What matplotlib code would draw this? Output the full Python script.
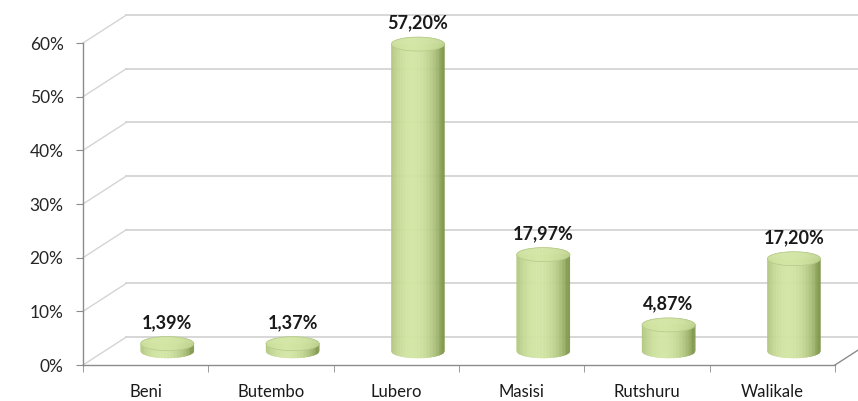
import numpy as np
import matplotlib.pyplot as plt
from matplotlib.collections import PolyCollection
from matplotlib.colors import to_rgb

plt.rcParams['font.family'] = ['Lato', 'DejaVu Sans']

categories = ['Beni', 'Butembo', 'Lubero', 'Masisi', 'Rutshuru', 'Walikale']
values = [1.39, 1.37, 57.20, 17.97, 4.87, 17.20]
labels = ['1,39%', '1,37%', '57,20%', '17,97%', '4,87%', '17,20%']
yticks = [0, 10, 20, 30, 40, 50, 60]

# depth of the 3D box, in data units (categories, percent)
DX, DY = 0.345, 5.2
HALF_W, HALF_H = 0.212, 1.3

grid_c = '#d4d4d4'
axis_c = '#8c8c8c'
dark = np.array(to_rgb('#82994e'))
light = np.array(to_rgb('#d3e6a4'))

fig = plt.figure(figsize=(8.58, 4.01), dpi=100)
ax = fig.add_axes([83 / 858, 36 / 401, 752 / 858, 322 / 401])
ax.set_xlim(-0.5, 5.5)
ax.set_ylim(0, 60)
for s in ['top', 'right']:
    ax.spines[s].set_visible(False)
for s in ['left', 'bottom']:
    ax.spines[s].set_color(axis_c)
    ax.spines[s].set_linewidth(1.0)

# back wall gridlines and the diagonals joining them to the front axis
for t in yticks:
    ax.plot([-0.5 + DX, 6.5], [t + DY, t + DY], color=grid_c, lw=1.3,
            clip_on=False, zorder=0)
    ax.plot([-0.5, -0.5 + DX], [t, t + DY], color=grid_c, lw=1.0,
            clip_on=False, zorder=0)
# right edge of the floor
ax.plot([5.5, 5.5 + DX], [0, DY], color=axis_c, lw=1.0, clip_on=False, zorder=0)


def shade(u, lift=0.0):
    # cylinder lighting: bright a little left of centre, darker at the rims
    k = np.clip(1 - ((u + 0.2) / 1.1) ** 2, 0, 1) ** 0.75
    c = dark + (light - dark) * k
    return np.clip(c + lift, 0, 1)


n = 70
for i, v in enumerate(values):
    cx, base, top = i + DX / 2, DY / 2, v + DY / 2
    edges = np.linspace(-1, 1, n + 1)
    body, top_cap, cols, top_cols = [], [], [], []
    for u0, u1 in zip(edges[:-1], edges[1:]):
        x0, x1 = cx + u0 * HALF_W, cx + u1 * HALF_W
        e0 = HALF_H * np.sqrt(max(0, 1 - u0 ** 2))
        e1 = HALF_H * np.sqrt(max(0, 1 - u1 ** 2))
        body.append([(x0, base - e0), (x1, base - e1), (x1, top), (x0, top)])
        top_cap.append([(x0, top - e0), (x1, top - e1), (x1, top + e1), (x0, top + e0)])
        um = (u0 + u1) / 2
        cols.append(shade(um))
        top_cols.append(shade(um * 0.5 - 0.1))
    ax.add_collection(PolyCollection(body, facecolors=cols, edgecolors=cols,
                                     linewidths=0.3, zorder=3, clip_on=False))
    ax.add_collection(PolyCollection(top_cap, facecolors=top_cols, edgecolors=top_cols,
                                     linewidths=0.3, zorder=4, clip_on=False))
    t = np.linspace(0, 2 * np.pi, 100)
    ax.plot(cx + HALF_W * np.cos(t), top + HALF_H * np.sin(t), color='#b3c88a',
            lw=0.5, zorder=5, clip_on=False)
    ax.annotate(labels[i], (cx, top + HALF_H), xytext=(0, 4), textcoords='offset points',
                ha='center', va='bottom', fontsize=13, fontweight='bold',
                color='#1a1a1a', zorder=6, annotation_clip=False)

ax.set_yticks(yticks)
ax.set_yticklabels([f'{t}%' for t in yticks])
ax.set_xticks(range(len(categories)))
ax.set_xticklabels(categories)
ax.set_xticks(np.arange(-0.5, 6, 1), minor=True)
ax.tick_params(axis='x', which='major', length=0, pad=14, labelsize=12, colors='#1a1a1a')
ax.tick_params(axis='x', which='minor', length=5, color=axis_c, direction='out')
ax.tick_params(axis='y', length=5, color=axis_c, labelsize=12.5, labelcolor='#262626', pad=9)

fig.savefig('out.png', dpi=100)
